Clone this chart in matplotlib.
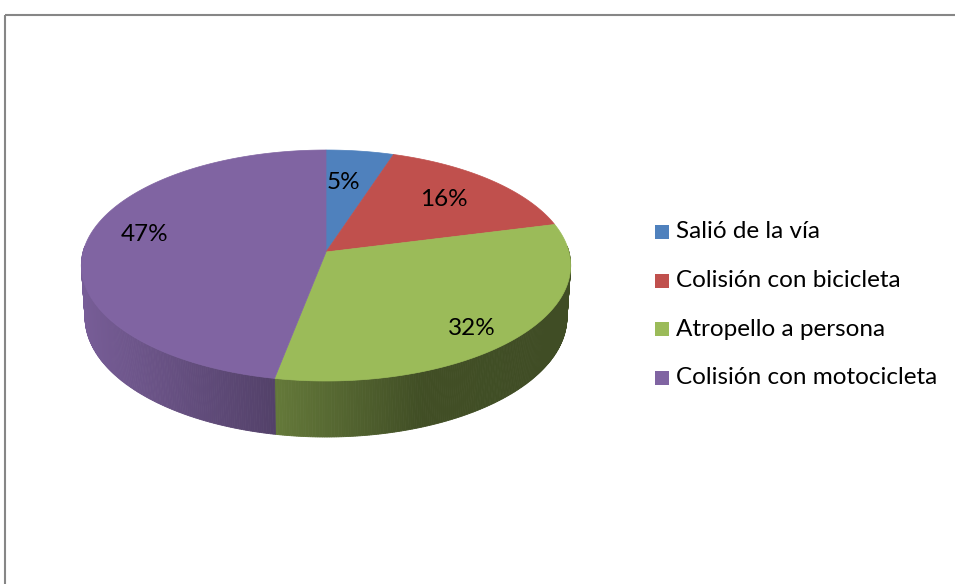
import numpy as np
import matplotlib.pyplot as plt
from matplotlib.patches import Polygon, Rectangle
from matplotlib.colors import to_rgb

plt.rcParams['font.family'] = ['Lato', 'DejaVu Sans']

# datos
categorias = ['Salió de la vía', 'Colisión con bicicleta',
              'Atropello a persona', 'Colisión con motocicleta']
porcentajes = [5, 16, 32, 47]
colores = ['#4f81bd', '#c0504d', '#9bbb59', '#8064a2']

# camara para la torta 3D (perspectiva)
CX, CY = 326, 252
FOCAL = 1836.0
DIST = 7.557
theta = np.radians(27.96)
ct, st = np.cos(theta), np.sin(theta)
ALTO = 0.2436

# ajuste fino de las etiquetas (px)
desplaz = [(-8, 7), (-6, 2), (7, 15), (-4, -10)]


def proyectar(px, py, pz):
    dy = py + DIST * ct
    dz = pz - DIST * st
    prof = dy * ct - dz * st
    arriba = dy * st + dz * ct
    return CX + FOCAL * px / prof, CY - FOCAL * arriba / prof


def sombra(xs):
    # mas oscuro hacia la derecha, como el relleno de Excel
    return np.interp(xs, [82, 280, 420, 570], [0.93, 0.64, 0.42, 0.41])


fig = plt.figure(figsize=(9.55, 5.84), dpi=100)
ax = fig.add_axes([0, 0, 1, 1])
ax.set_xlim(0, 955)
ax.set_ylim(584, 0)
ax.axis('off')

# marco del grafico
ax.add_patch(Rectangle((5, 15), 1000, 600, fill=False, edgecolor='#868686', linewidth=1.5))

total = sum(porcentajes)
ang = [90.0]
for v in porcentajes:
    ang.append(ang[-1] - 360.0 * v / total)

# pared lateral
for i, col in enumerate(colores):
    base = np.array(to_rgb(col))
    a0, a1 = ang[i], ang[i + 1]
    n = max(int(abs(a0 - a1) * 2), 2)
    phis = np.radians(np.linspace(a0, a1, n + 1))
    for p0, p1 in zip(phis[:-1], phis[1:]):
        if np.sin(p0) > 0.05 and np.sin(p1) > 0.05:
            continue
        x0, y0 = proyectar(np.cos(p0), np.sin(p0), 0)
        x1, y1 = proyectar(np.cos(p1), np.sin(p1), 0)
        x2, y2 = proyectar(np.cos(p1), np.sin(p1), -ALTO)
        x3, y3 = proyectar(np.cos(p0), np.sin(p0), -ALTO)
        c = np.clip(base * sombra((x0 + x1) / 2), 0, 1)
        ax.add_patch(Polygon([(x0, y0), (x1, y1), (x2, y2), (x3, y3)],
                             closed=True, facecolor=c, edgecolor=c, linewidth=0.6))

# cara superior
for i, col in enumerate(colores):
    phis = np.radians(np.linspace(ang[i], ang[i + 1], 200))
    xs, ys = proyectar(np.cos(phis), np.sin(phis), 0)
    ox, oy = proyectar(0, 0, 0)
    pts = [(ox, oy)] + list(zip(xs, ys))
    ax.add_patch(Polygon(pts, closed=True, facecolor=col, edgecolor=col, linewidth=0.5))

# etiquetas de porcentaje
for i, v in enumerate(porcentajes):
    mid = np.radians((ang[i] + ang[i + 1]) / 2)
    r = 0.74
    lx, ly = proyectar(r * np.cos(mid), r * np.sin(mid), 0)
    ax.text(lx + desplaz[i][0], ly + desplaz[i][1], f'{v}%', fontsize=17.5,
            ha='center', va='center', color='black')

# leyenda
for i, (cat, col) in enumerate(zip(categorias, colores)):
    yy = 232 + i * 48.5
    ax.add_patch(Rectangle((655, yy - 7), 14, 14, facecolor=col, edgecolor='none'))
    ax.text(676, yy, cat, fontsize=17.5, ha='left', va='center', color='black')

fig.savefig('out.png', dpi=100)
